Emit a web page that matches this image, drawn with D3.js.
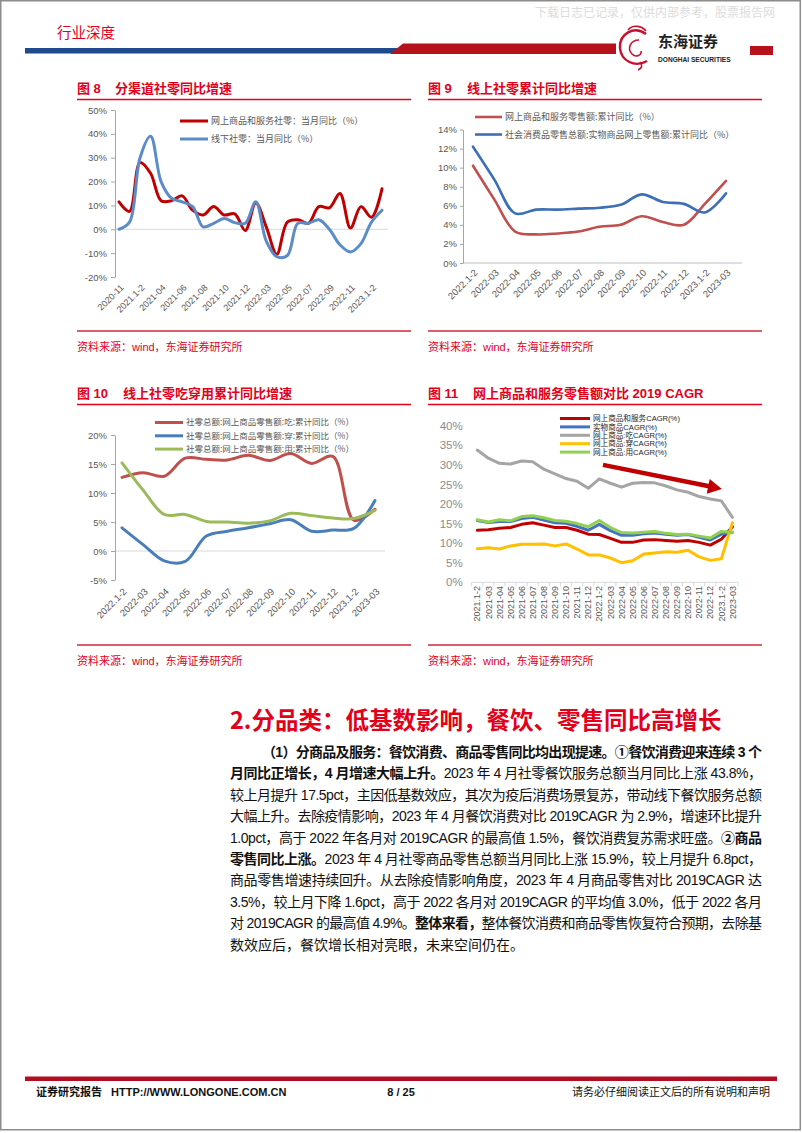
<!DOCTYPE html>
<html>
<head>
<meta charset="utf-8">
<script src="https://cdn.jsdelivr.net/npm/d3@7"></script>
<style>
  body { margin: 0; background: #fff; }
  svg { display: block; }
  text { font-family: "Liberation Sans", "Noto Sans CJK SC", sans-serif; }
  .cjk { font-family: "Noto Sans CJK SC", sans-serif; }
  .body { font-family: "Liberation Sans Narrow", "Liberation Sans", "Noto Sans CJK SC", sans-serif; font-size: 14px; fill: #111; }
</style>
</head>
<body>
<script>
// 图8 分渠道社零同比增速
const months8 = ["2020-11", "2020-12", "2021.1-2", "2021-03", "2021-04", "2021-05", "2021-06", "2021-07", "2021-08",
  "2021-09", "2021-10", "2021-11", "2021-12", "2022.1-2", "2022-03", "2022-04", "2022-05", "2022-06", "2022-07",
  "2022-08", "2022-09", "2022-10", "2022-11", "2022-12", "2023.1-2", "2023-03"];
const online8 = [11.5, 7.5, 28, 23.5, 12, 12, 14, 8, 6, 9.5, 6, 6.5, -0.5, 11, 1, -10.5, 3, 4, 2.5, 9.5, 9, 15, 0.5, 9.5, 5, 17];
const offline8 = [0, 3, 30, 39, 20, 13, 11.5, 9.5, 1, 2.5, 4.5, 2.8, 2.5, 11.5, -5, -11.5, -11, 2.5, 2.5, 4, 0, -6.5, -9.5, -6, 3, 8];
const legend8 = ["网上商品和服务社零：当月同比（%）", "线下社零：当月同比（%）"];
const ticks8 = [-20, -10, 0, 10, 20, 30, 40, 50];

// 图9 线上社零累计同比增速
const months9 = ["2022.1-2", "2022-03", "2022-04", "2022-05", "2022-06", "2022-07", "2022-08", "2022-09", "2022-10",
  "2022-11", "2022-12", "2023.1-2", "2023-03"];
const online9 = [10.2, 6.7, 3.3, 3.0, 3.1, 3.3, 3.8, 4.0, 4.9, 4.3, 4.0, 6.2, 8.6];
const goods9 = [12.2, 8.8, 5.2, 5.6, 5.6, 5.7, 5.8, 6.1, 7.2, 6.4, 6.2, 5.3, 7.3];
const legend9 = ["网上商品和服务零售额:累计同比（%）", "社会消费品零售总额:实物商品网上零售额:累计同比（%）"];
const ticks9 = [0, 2, 4, 6, 8, 10, 12, 14];

// 图10 线上社零吃穿用累计同比增速
const months10 = ["2022.1-2", "2022-03", "2022-04", "2022-05", "2022-06", "2022-07", "2022-08", "2022-09", "2022-10",
  "2022-11", "2022-12", "2023.1-2", "2023-03"];
const food10 = [12.7, 13.5, 12.9, 16.0, 15.8, 15.7, 16.5, 15.6, 16.8, 15.1, 16.3, 5.3, 7.2];
const clothes10 = [4.0, 1.1, -1.7, -1.8, 2.6, 3.4, 4.0, 4.7, 5.4, 3.4, 3.6, 3.9, 8.7];
const daily10 = [15.2, 10.5, 6.3, 6.3, 5.1, 5.0, 4.8, 5.2, 6.5, 6.1, 5.7, 5.6, 7.0];
const legend10 = ["社零总额:网上商品零售额:吃:累计同比（%）", "社零总额:网上商品零售额:穿:累计同比（%）", "社零总额:网上商品零售额:用:累计同比（%）"];
const ticks10 = [-5, 0, 5, 10, 15, 20];

// 图11 网上商品和服务零售额对比2019 CAGR
const months11 = ["2021.1-2", "2021-03", "2021-04", "2021-05", "2021-06", "2021-07", "2021-08", "2021-09", "2021-10",
  "2021-11", "2021-12", "2022.1-2", "2022-03", "2022-04", "2022-05", "2022-06", "2022-07", "2022-08", "2022-09",
  "2022-10", "2022-11", "2022-12", "2023.1-2", "2023-03"];
const cagrTotal = [13.3, 13.4, 13.8, 14.0, 14.8, 15.2, 14.6, 14.0, 14.0, 13.3, 12.3, 12.2, 11.2, 10.2, 10.2, 10.8, 10.9, 10.7, 10.5, 10.7, 10.2, 9.5, 11.0, 14.2];
const cagrGoods = [15.8, 15.3, 15.5, 15.5, 16.3, 16.6, 15.9, 15.2, 15.1, 14.3, 13.3, 14.8, 13.2, 12.0, 12.0, 12.4, 12.6, 12.3, 12.0, 12.2, 11.5, 10.8, 12.3, 12.8];
const cagrFood = [33.8, 31.7, 30.4, 30.2, 31.0, 30.8, 28.9, 27.7, 26.5, 25.8, 24.0, 26.4, 25.3, 24.3, 25.3, 25.5, 25.4, 24.6, 23.6, 23.0, 21.9, 21.3, 20.8, 16.6];
const cagrClothes = [8.6, 8.8, 8.5, 9.3, 9.7, 9.7, 9.8, 9.3, 9.8, 8.5, 7.0, 7.0, 6.2, 5.0, 5.5, 7.2, 7.5, 7.8, 7.7, 8.2, 6.5, 5.6, 6.0, 15.2];
const cagrDaily = [16.0, 15.4, 16.0, 15.7, 16.8, 17.0, 16.5, 15.8, 15.6, 15.0, 14.2, 15.8, 14.0, 12.7, 12.6, 12.8, 13.0, 12.5, 12.2, 12.3, 11.8, 11.3, 13.0, 12.8];
const legend11 = ["网上商品和服务CAGR(%)", "实物商品CAGR(%)", "网上商品:吃CAGR(%)", "网上商品:穿CAGR(%)", "网上商品:用CAGR(%)"];
const ticks11 = [0, 5, 10, 15, 20, 25, 30, 35, 40];

const RED = "#e2001a";

const svg = d3.select("body").append("svg").attr("width", 802).attr("height", 1133);

// page frame
svg.append("rect").attr("x", 0.75).attr("y", 0.75).attr("width", 799.5).attr("height", 1129)
  .attr("fill", "none").attr("stroke", "#8c8c8c").attr("stroke-width", 1.5);

// header
svg.append("text").attr("x", 535).attr("y", 17).attr("font-size", 12).attr("fill", "#dcdcdc")
  .attr("class", "cjk").text("下载日志已记录，仅供内部参考，股票报告网");
svg.append("text").attr("x", 57).attr("y", 38).attr("font-size", 14.5).attr("fill", RED)
  .attr("class", "cjk").text("行业深度");
svg.append("rect").attr("x", 25).attr("y", 48).attr("width", 372).attr("height", 5.5).attr("fill", "#1f4b8e");
svg.append("path").attr("d", "M390,54 L403,43.5 L616,43.5 L616,54 Z").attr("fill", "#b5121b");
svg.append("rect").attr("x", 750).attr("y", 46).attr("width", 23).attr("height", 9).attr("fill", "#b5121b");
// logo
svg.append("path").attr("d", "M646,34 C634,25 619,34 620,48 C621,61 635,68 647,61")
  .attr("fill", "none").attr("stroke", "#c8102e").attr("stroke-width", 2.4);
svg.append("path").attr("d", "M639,40 C630,40 627,49 632,54 C636,58 642,55 641,51 M628,30 C633,24 642,26 646,31 M640,62 C643,66 642,68 638,70")
  .attr("fill", "none").attr("stroke", "#c8102e").attr("stroke-width", 1.6);
svg.append("text").attr("x", 658).attr("y", 47).attr("font-size", 15).attr("font-weight", "bold").attr("fill", "#222")
  .attr("class", "cjk").text("东海证券");
svg.append("text").attr("x", 658).attr("y", 62).attr("font-size", 6.6).attr("font-weight", "bold").attr("fill", "#222")
  .text("DONGHAI SECURITIES");

// panel frames: titles, rules, sources
function panel(x0, x1, base, num, title, titleX, bottom) {
  svg.append("text").attr("x", x0).attr("y", base).attr("font-size", 13).attr("font-weight", "bold")
    .attr("fill", RED).text("图 " + num);
  svg.append("text").attr("x", titleX).attr("y", base).attr("font-size", 13).attr("font-weight", "bold")
    .attr("fill", RED).text(title);
  svg.append("line").attr("x1", x0).attr("x2", x1).attr("y1", base + 6.5).attr("y2", base + 6.5)
    .attr("stroke", RED).attr("stroke-width", 1.3);
  svg.append("line").attr("x1", x0).attr("x2", x1).attr("y1", bottom).attr("y2", bottom)
    .attr("stroke", "#d4283a").attr("stroke-width", 1.3);
  svg.append("text").attr("x", x0).attr("y", bottom + 20).attr("font-size", 11).attr("fill", RED)
    .text("资料来源：wind，东海证券研究所");
}
panel(77, 411, 93, "8", "分渠道社零同比增速", 115, 331);
panel(428, 762, 93, "9", "线上社零累计同比增速", 467, 331);
panel(77, 411, 398, "10", "线上社零吃穿用累计同比增速", 123, 645);
panel(428, 762, 398, "11", "网上商品和服务零售额对比 2019 CAGR", 473, 645);

function yAxis(xPos, y, ticks, size, pad, fontSize, color, showDomain) {
  const g = svg.append("g").attr("transform", `translate(${xPos},0)`)
    .call(d3.axisLeft(y).tickValues(ticks).tickFormat((d) => d + "%").tickSize(size).tickPadding(pad).tickSizeOuter(0));
  g.select(".domain").attr("stroke", showDomain ? "#a6a6a6" : "none");
  g.selectAll(".tick line").attr("stroke", "#a6a6a6");
  g.selectAll(".tick text").attr("fill", color).attr("font-size", fontSize)
    .attr("font-family", '"Liberation Sans", sans-serif');
  return g;
}

function xLabels(cats, xf, yPos, angle, fontSize, every, dx) {
  svg.append("g").selectAll("text")
    .data(cats.filter((d, i) => i % every === 0))
    .enter()
    .append("text")
    .attr("transform", (d) => `translate(${xf(d) + dx},${yPos}) rotate(${angle})`)
    .attr("text-anchor", "end")
    .attr("dy", "0.35em")
    .attr("font-size", fontSize)
    .attr("fill", "#595959")
    .text((d) => d);
}

function drawLines(cats, xf, y, series, colors, width, curve) {
  const line = d3.line().x((d, i) => xf(cats[i])).y((d) => y(d)).curve(curve);
  svg.append("g").selectAll("path")
    .data(series)
    .enter()
    .append("path")
    .attr("d", (d) => line(d))
    .attr("fill", "none")
    .attr("stroke", (d, i) => colors[i])
    .attr("stroke-width", width)
    .attr("stroke-linejoin", "round")
    .attr("stroke-linecap", "round");
}

function legend(items, colors, x, y0, step, lineLen, width, fontSize, textColor, cls) {
  const g = svg.append("g");
  items.forEach((t, i) => {
    g.append("line").attr("x1", x).attr("x2", x + lineLen).attr("y1", y0 + i * step).attr("y2", y0 + i * step)
      .attr("stroke", colors[i]).attr("stroke-width", width);
    const tx = g.append("text").attr("x", x + lineLen + 3).attr("y", y0 + i * step).attr("dy", "0.35em")
      .attr("font-size", fontSize).attr("fill", textColor).text(t);
    if (cls) tx.attr("class", cls);
  });
}

const smooth = d3.curveCatmullRom.alpha(0.5);

// ---- 图8 ----
const x8 = d3.scalePoint().domain(months8).range([119, 382]);
const y8 = d3.scaleLinear().domain([-20, 50]).range([277, 110]);
svg.append("line").attr("x1", 115).attr("x2", 388).attr("y1", y8(0)).attr("y2", y8(0))
  .attr("stroke", "#d9d9d9").attr("stroke-width", 1);
yAxis(115, y8, ticks8, 4, 4, 9.5, "#595959", true);
xLabels(months8, x8, 286, -45, 9, 2, 3);
const colors8 = ["#c00000", "#5b8cc8"];
drawLines(months8, x8, y8, [online8, offline8], colors8, 3, smooth);
legend(legend8, colors8, 180, 121, 18, 28, 3, 9, "#595959", "cjk");

// ---- 图9 ----
const x9 = d3.scalePoint().domain(months9).range([473, 726]);
const y9 = d3.scaleLinear().domain([0, 14]).range([263, 129.5]);
svg.append("line").attr("x1", 463).attr("x2", 742).attr("y1", y9(0)).attr("y2", y9(0))
  .attr("stroke", "#bfbfbf").attr("stroke-width", 1);
yAxis(463, y9, ticks9, 3, 3, 9.5, "#595959", true);
xLabels(months9, x9, 271, -45, 9.5, 1, 3);
const colors9 = ["#c0504d", "#3c6fb6"];
drawLines(months9, x9, y9, [online9, goods9], colors9, 2.6, smooth);
legend(legend9, colors9, 475, 117, 17.5, 27, 2.6, 9, "#595959", "cjk");

// ---- 图10 ----
const x10 = d3.scalePoint().domain(months10).range([122, 375]);
const y10 = d3.scaleLinear().domain([-5, 20]).range([580, 435]);
svg.append("line").attr("x1", 115).attr("x2", 385).attr("y1", y10(0)).attr("y2", y10(0))
  .attr("stroke", "#d9d9d9").attr("stroke-width", 1);
yAxis(115, y10, ticks10, 4, 4, 9.5, "#595959", true);
xLabels(months10, x10, 590, -45, 9.5, 1, 3);
const colors10 = ["#c0504d", "#4a7ebb", "#9bbb59"];
drawLines(months10, x10, y10, [food10, clothes10, daily10], colors10, 3, smooth);
legend(legend10, colors10, 155, 422.5, 13.3, 28, 3, 8.5, "#595959", "cjk");

// ---- 图11 ----
const x11 = d3.scaleBand().domain(months11).range([471.7, 738]);
const x11c = (d) => x11(d) + x11.bandwidth() / 2;
const y11 = d3.scaleLinear().domain([0, 40]).range([582.3, 425.7]);
svg.append("line").attr("x1", 471.7).attr("x2", 738).attr("y1", y11(0)).attr("y2", y11(0))
  .attr("stroke", "#d9d9d9").attr("stroke-width", 1);
svg.append("g").selectAll("line").data(months11.concat([null])).enter().append("line")
  .attr("x1", (d, i) => 471.7 + i * x11.bandwidth()).attr("x2", (d, i) => 471.7 + i * x11.bandwidth())
  .attr("y1", y11(0)).attr("y2", y11(0) + 4).attr("stroke", "#d9d9d9");
const ax11 = yAxis(471.7, y11, ticks11, 0, 9, 11.5, "#8c8c8c", false);
ax11.selectAll(".tick text").attr("font-family", '"Liberation Sans Narrow", "Liberation Sans", sans-serif');
xLabels(months11, x11c, 586, -90, 9, 1, 0);
const colors11 = ["#c00000", "#4472c4", "#a5a5a5", "#ffc000", "#92d050"];
drawLines(months11, x11c, y11, [cagrTotal, cagrGoods, cagrFood, cagrClothes, cagrDaily], colors11, 3, d3.curveLinear);
legend(legend11, colors11, 560, 418.5, 8.4, 30, 3, 7.6, "#262626", null);

// trend arrow
const xi11 = d3.scaleLinear().domain([0, months11.length - 1]).range([x11c(months11[0]), x11c(months11[months11.length - 1])]);
const a0 = [xi11(11.33), y11(30)];
const a1 = [xi11(22.05), y11(23.8)];
const ang = Math.atan2(a1[1] - a0[1], a1[0] - a0[0]);
const headLen = 14, headW = 7.5;
const base = [a1[0] - headLen * Math.cos(ang), a1[1] - headLen * Math.sin(ang)];
svg.append("line").attr("x1", a0[0]).attr("y1", a0[1]).attr("x2", base[0] + 1).attr("y2", base[1])
  .attr("stroke", "#c00000").attr("stroke-width", 4.5);
svg.append("path")
  .attr("d", `M${a1[0]},${a1[1]} L${base[0] - headW * Math.sin(ang)},${base[1] + headW * Math.cos(ang)} L${base[0] + headW * Math.sin(ang)},${base[1] - headW * Math.cos(ang)} Z`)
  .attr("fill", "#c00000");

// section heading
svg.append("text").attr("x", 230).attr("y", 729).attr("font-size", 23.5).attr("font-weight", "bold")
  .attr("fill", RED).attr("class", "cjk").text("2.分品类：低基数影响，餐饮、零售同比高增长");

// body text, one line per row, [text, bold] pieces
const bodyLines = [
  [["（1）分商品及服务：餐饮消费、商品零售同比均出现提速。①餐饮消费迎来连续 3 个", true]],
  [["月同比正增长，4 月增速大幅上升。", true], ["2023 年 4 月社零餐饮服务总额当月同比上涨 43.8%，", false]],
  [["较上月提升 17.5pct，主因低基数效应，其次为疫后消费场景复苏，带动线下餐饮服务总额", false]],
  [["大幅上升。去除疫情影响，2023 年 4 月餐饮消费对比 2019CAGR 为 2.9%，增速环比提升", false]],
  [["1.0pct，高于 2022 年各月对 2019CAGR 的最高值 1.5%，餐饮消费复苏需求旺盛。", false], ["②商品", true]],
  [["零售同比上涨。", true], ["2023 年 4 月社零商品零售总额当月同比上涨 15.9%，较上月提升 6.8pct，", false]],
  [["商品零售增速持续回升。从去除疫情影响角度，2023 年 4 月商品零售对比 2019CAGR 达", false]],
  [["3.5%，较上月下降 1.6pct，高于 2022 各月对 2019CAGR 的平均值 3.0%，低于 2022 各月", false]],
  [["对 2019CAGR 的最高值 4.9%。", false], ["整体来看，", true], ["整体餐饮消费和商品零售恢复符合预期，去除基", false]],
  [["数效应后，餐饮增长相对亮眼，未来空间仍在。", false]]
];
bodyLines.forEach((parts, i) => {
  const x = i === 0 ? 262 : 230;
  const t = svg.append("text").attr("class", "body").attr("x", x).attr("y", 757 + i * 21.4);
  if (i < bodyLines.length - 1) t.attr("textLength", 762 - x).attr("lengthAdjust", "spacing");
  parts.forEach((p) => {
    t.append("tspan").attr("font-weight", p[1] ? "bold" : "normal").text(p[0]);
  });
});

// footer
svg.append("rect").attr("x", 25).attr("y", 1076.5).attr("width", 752).attr("height", 4.5).attr("fill", "#b30d23");
svg.append("text").attr("x", 36).attr("y", 1096).attr("font-size", 11).attr("font-weight", "bold").attr("fill", "#111")
  .text("证券研究报告");
svg.append("text").attr("x", 111).attr("y", 1096).attr("font-size", 11).attr("font-weight", "bold").attr("fill", "#111")
  .attr("font-family", '"Liberation Sans Narrow", "Liberation Sans", sans-serif').text("HTTP://WWW.LONGONE.COM.CN");
svg.append("text").attr("x", 401).attr("y", 1096).attr("font-size", 11).attr("font-weight", "bold").attr("fill", "#111")
  .attr("text-anchor", "middle").text("8 / 25");
svg.append("text").attr("x", 770).attr("y", 1096).attr("font-size", 11).attr("fill", "#111")
  .attr("text-anchor", "end").attr("class", "cjk").text("请务必仔细阅读正文后的所有说明和声明");
</script>
</body>
</html>
